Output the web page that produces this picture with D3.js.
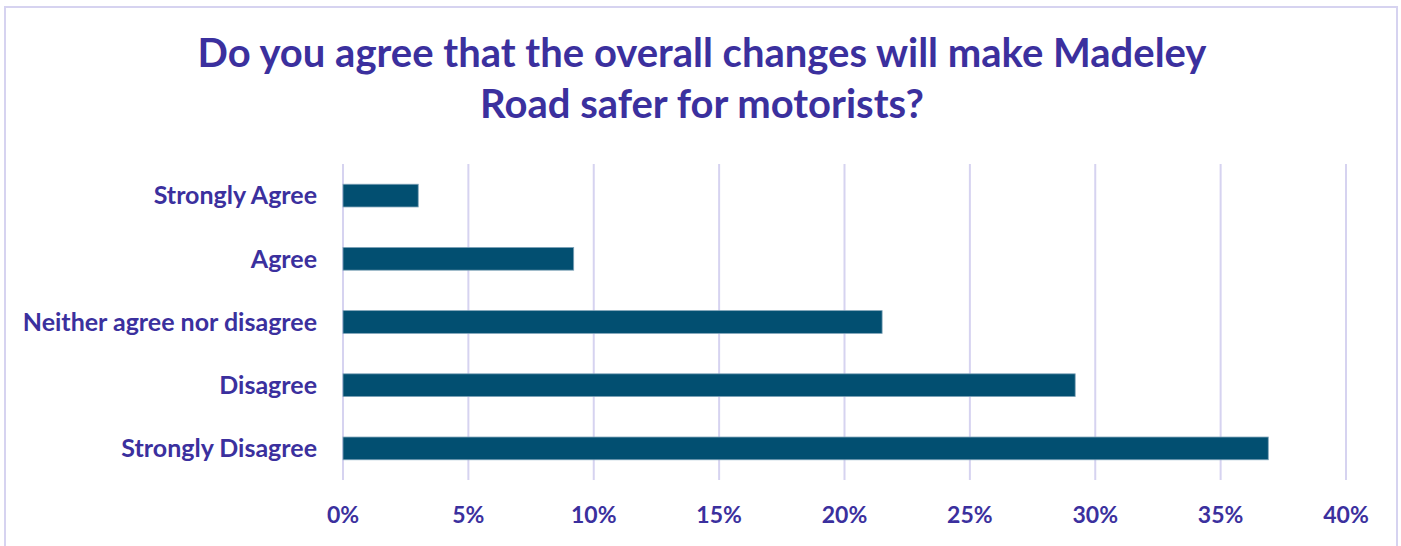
<!DOCTYPE html>
<html>
<head>
<meta charset="utf-8">
<script src="https://cdn.jsdelivr.net/npm/d3@7"></script>
<style>
  body { margin: 0; background: #fff; }
  svg { display: block; font-family: Lato, "Liberation Sans", sans-serif; }
</style>
</head>
<body>
<div class="chart"></div>
<script>
const categories = ["Strongly Agree", "Agree", "Neither agree nor disagree", "Disagree", "Strongly Disagree"];
const values = [3.0, 9.2, 21.5, 29.2, 36.9];
const tickValues = [0, 5, 10, 15, 20, 25, 30, 35, 40];
const titleLines = ["Do you agree that the overall changes will make Madeley", "Road safer for motorists?"];

function drawBar() {
    const width = 1401;
    const height = 546;
    const margin = { top: 164, bottom: 66, left: 343, right: 55 };
    const textColor = "#3b309e";
    const barColor = "#024f71";
    const gridColor = "#d6d3f0";

    const svg = d3.select(".chart")
        .append("svg")
        .attr("width", width)
        .attr("height", height);

    // chart frame
    svg.append("rect")
        .attr("x", 5).attr("y", 7)
        .attr("width", 1392).attr("height", 560)
        .attr("fill", "none")
        .attr("stroke", gridColor)
        .attr("stroke-width", 2);

    const xScale = d3.scaleLinear()
        .domain([0, 40])
        .range([margin.left, width - margin.right]);

    const yScale = d3.scaleBand()
        .domain(categories)
        .range([margin.top, height - margin.bottom])
        .paddingInner(0.64)
        .paddingOuter(0.32);

    // title
    svg.append("g")
        .selectAll("text")
        .data(titleLines)
        .enter()
        .append("text")
        .attr("x", 702)
        .attr("y", (d, i) => 67 + i * 51)
        .attr("text-anchor", "middle")
        .attr("fill", textColor)
        .style("font-size", "40px")
        .style("font-weight", "bold")
        .text(d => d);

    // vertical gridlines
    svg.append("g")
        .selectAll("line")
        .data(tickValues)
        .enter()
        .append("line")
        .attr("x1", d => xScale(d))
        .attr("x2", d => xScale(d))
        .attr("y1", margin.top)
        .attr("y2", height - margin.bottom)
        .attr("stroke", gridColor)
        .attr("stroke-width", 2);

    // bars
    svg.append("g")
        .selectAll("rect")
        .data(values)
        .enter()
        .append("rect")
        .attr("x", xScale(0))
        .attr("y", (d, i) => yScale(categories[i]))
        .attr("width", d => xScale(d) - xScale(0))
        .attr("height", yScale.bandwidth())
        .attr("fill", barColor)
        .attr("stroke", "#7fa3b8")
        .attr("stroke-width", 0.8);

    // category labels
    svg.append("g")
        .selectAll("text")
        .data(categories)
        .enter()
        .append("text")
        .attr("x", 317)
        .attr("y", d => yScale(d) + yScale.bandwidth() / 2)
        .attr("dy", "0.35em")
        .attr("text-anchor", "end")
        .attr("fill", textColor)
        .style("font-size", "25px")
        .style("font-weight", "bold")
        .text(d => d);

    // x axis tick labels
    svg.append("g")
        .selectAll("text")
        .data(tickValues)
        .enter()
        .append("text")
        .attr("x", d => xScale(d))
        .attr("y", 523)
        .attr("text-anchor", "middle")
        .attr("fill", textColor)
        .style("font-size", "23px")
        .style("font-weight", "bold")
        .text(d => d + "%");
}

drawBar();
</script>
</body>
</html>
